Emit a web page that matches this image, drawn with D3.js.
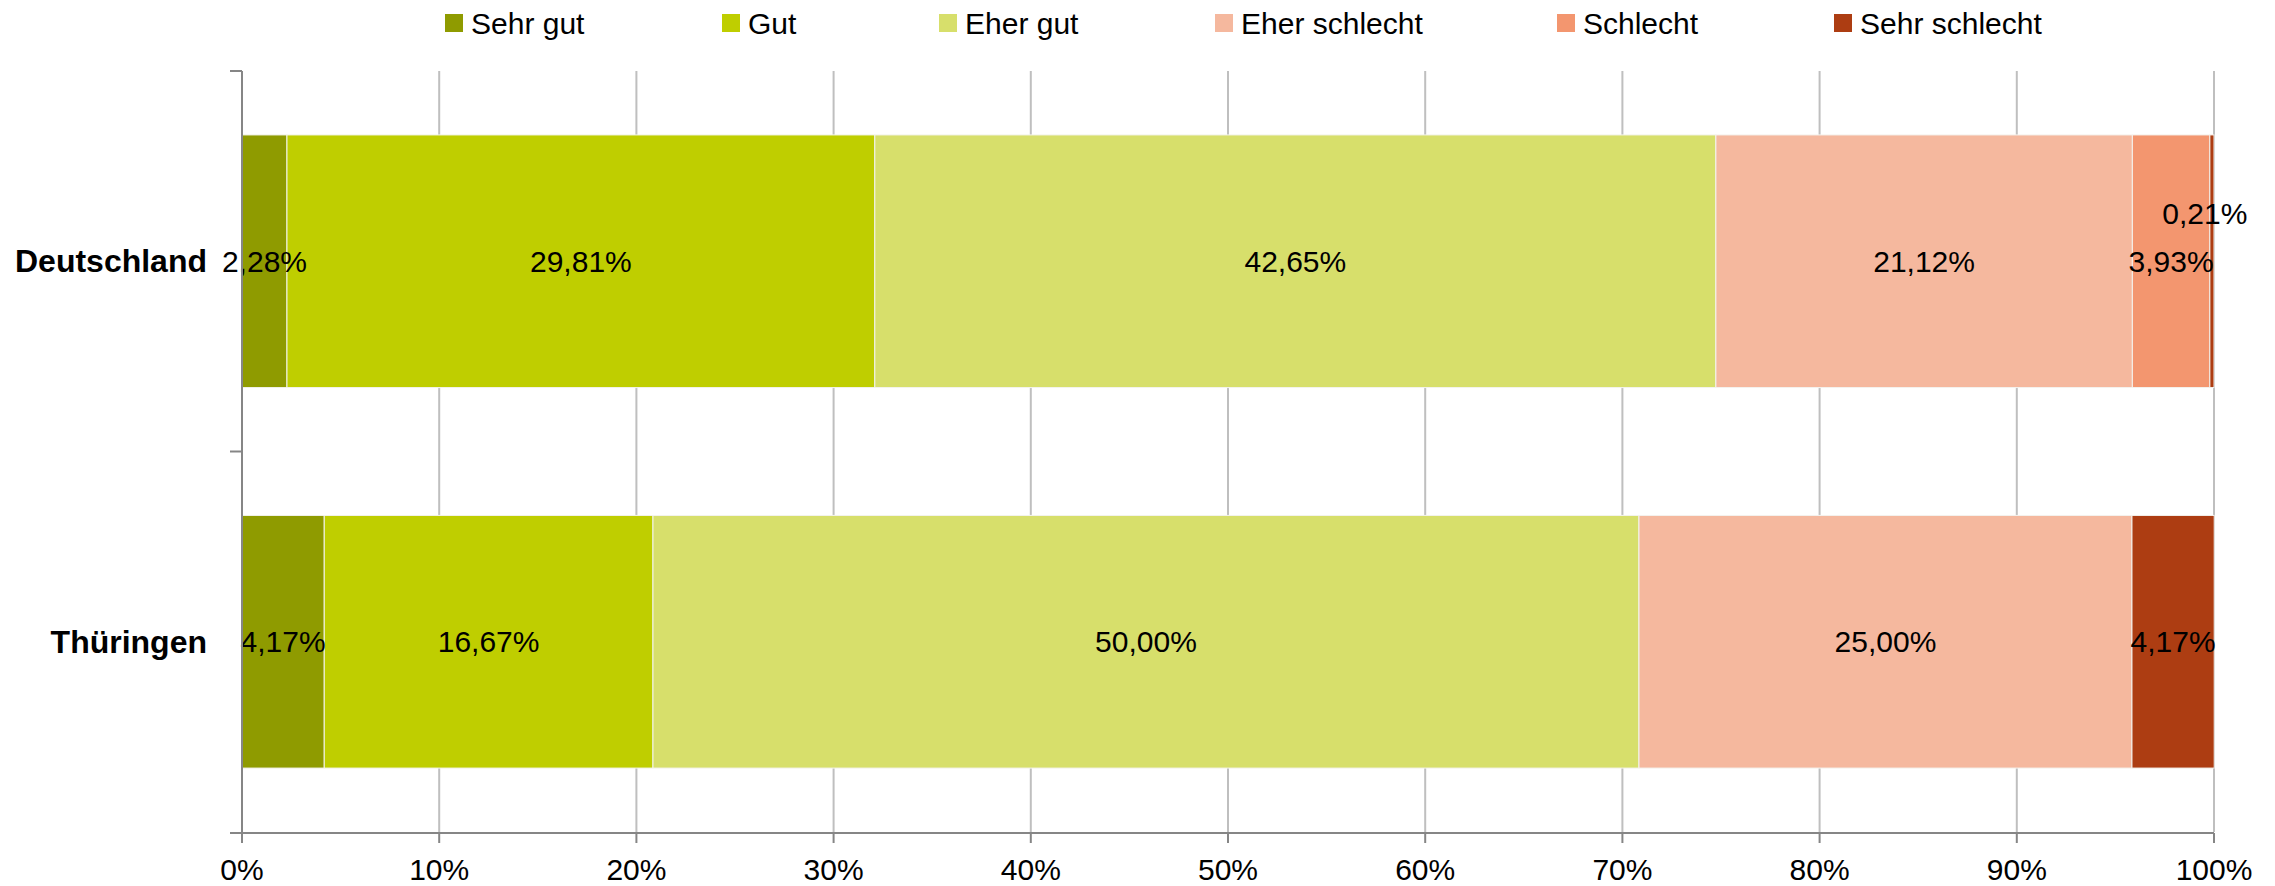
<!DOCTYPE html>
<html>
<head>
<meta charset="utf-8">
<script src="https://cdn.jsdelivr.net/npm/d3@7"></script>
<style>
  body { margin: 0; background: #fff; }
  text { font-family: "Liberation Sans Narrow", "Liberation Sans", sans-serif; }
</style>
</head>
<body>
<script>
var width = 2275;
var height = 886;

// data
var regions = ["Deutschland", "Thüringen"];
var answers = ["Sehr gut", "Gut", "Eher gut", "Eher schlecht", "Schlecht", "Sehr schlecht"];
var colors = ["#8f9b00", "#bfce00", "#d7df6b", "#f5b89e", "#f3966f", "#ad3d12"];
var deutschland = [2.28, 29.81, 42.65, 21.12, 3.93, 0.21];
var thueringen = [4.17, 16.67, 50.00, 25.00, 0, 4.17];
var xTicks = [0, 10, 20, 30, 40, 50, 60, 70, 80, 90, 100];
var legendX = [445, 722, 939, 1215, 1557, 1834];

var values = [deutschland, thueringen];
var margin = { top: 71, right: 61, bottom: 54, left: 242 };

var svg = d3.select("body").append("svg")
  .attr("width", width).attr("height", height);

var x = d3.scaleLinear().domain([0, 100]).range([margin.left, width - margin.right]);
var y = d3.scaleBand().domain(regions)
  .range([margin.top, height - margin.bottom])
  .paddingInner(0.336).paddingOuter(0.168);

// gridlines
svg.append("g").selectAll("line").data(xTicks.slice(1)).enter().append("line")
  .attr("x1", function (d) { return x(d); }).attr("x2", function (d) { return x(d); })
  .attr("y1", margin.top).attr("y2", height - margin.bottom)
  .style("stroke", "#bfbfbf").style("stroke-width", 2);

// stacked segments
var rows = regions.map(function (r, i) {
  var acc = 0;
  return values[i].map(function (v, j) {
    var seg = { region: r, k: j, v: v, x0: acc, x1: acc + v };
    acc += v;
    return seg;
  });
});

var g = svg.append("g");
rows.forEach(function (row) {
  g.selectAll(null).data(row.filter(function (d) { return d.v > 0; })).enter().append("rect")
    .attr("x", function (d) { return x(d.x0); })
    .attr("width", function (d) { return x(d.x1) - x(d.x0); })
    .attr("y", function (d) { return y(d.region); })
    .attr("height", y.bandwidth())
    .style("fill", function (d) { return colors[d.k]; })
    .style("stroke", "#f4f4f0").style("stroke-width", 1);
});

// labels
var fmt = function (v) { return v.toFixed(2).replace(".", ",") + "%"; };
rows.forEach(function (row) {
  g.selectAll(null).data(row.filter(function (d) { return d.v > 0; })).enter().append("text")
    .attr("x", function (d) { return d.v < 1 ? x(d.x0) - 5 : (x(d.x0) + x(d.x1)) / 2; })
    .attr("y", function (d) { return y(d.region) + y.bandwidth() / 2 + (d.v < 1 ? -48 : 0); })
    .attr("dy", "0.35em")
    .attr("text-anchor", "middle")
    .style("font-size", "30px").style("fill", "#000")
    .text(function (d) { return fmt(d.v); });
});

// axes lines
var axisColor = "#868686";
var bottomY = height - margin.bottom + 1;
svg.append("line").attr("x1", x(0)).attr("x2", x(0))
  .attr("y1", margin.top).attr("y2", bottomY)
  .style("stroke", axisColor).style("stroke-width", 2);
svg.append("line").attr("x1", x(0) - 12).attr("x2", x(100))
  .attr("y1", bottomY).attr("y2", bottomY)
  .style("stroke", axisColor).style("stroke-width", 2);

// y ticks at band boundaries
var yBounds = [margin.top, (y(regions[0]) + y.bandwidth() + y(regions[1])) / 2, bottomY];
svg.append("g").selectAll("line").data(yBounds).enter().append("line")
  .attr("x1", x(0) - 12).attr("x2", x(0))
  .attr("y1", function (d) { return d; }).attr("y2", function (d) { return d; })
  .style("stroke", axisColor).style("stroke-width", 2);

// x ticks + labels
svg.append("g").selectAll("line").data(xTicks).enter().append("line")
  .attr("x1", function (d) { return x(d); }).attr("x2", function (d) { return x(d); })
  .attr("y1", bottomY).attr("y2", bottomY + 10)
  .style("stroke", axisColor).style("stroke-width", 2);
svg.append("g").selectAll("text").data(xTicks).enter().append("text")
  .attr("x", function (d) { return x(d); })
  .attr("y", 869).attr("dy", "0.35em")
  .attr("text-anchor", "middle")
  .style("font-size", "30px")
  .text(function (d) { return d + "%"; });

// category labels
svg.append("g").selectAll("text").data(regions).enter().append("text")
  .attr("x", 207)
  .attr("y", function (d) { return y(d) + y.bandwidth() / 2; })
  .attr("dy", "0.35em")
  .attr("text-anchor", "end")
  .style("font-size", "32px").style("font-weight", "bold")
  .text(function (d) { return d; });

// legend
var leg = svg.append("g").selectAll("g").data(answers).enter().append("g")
  .attr("transform", function (d, i) { return "translate(" + legendX[i] + ",14)"; });
leg.append("rect").attr("width", 18).attr("height", 18)
  .style("fill", function (d, i) { return colors[i]; });
leg.append("text").attr("x", 26).attr("y", 9).attr("dy", "0.35em")
  .style("font-size", "30px")
  .text(function (d) { return d; });
</script>
</body>
</html>
